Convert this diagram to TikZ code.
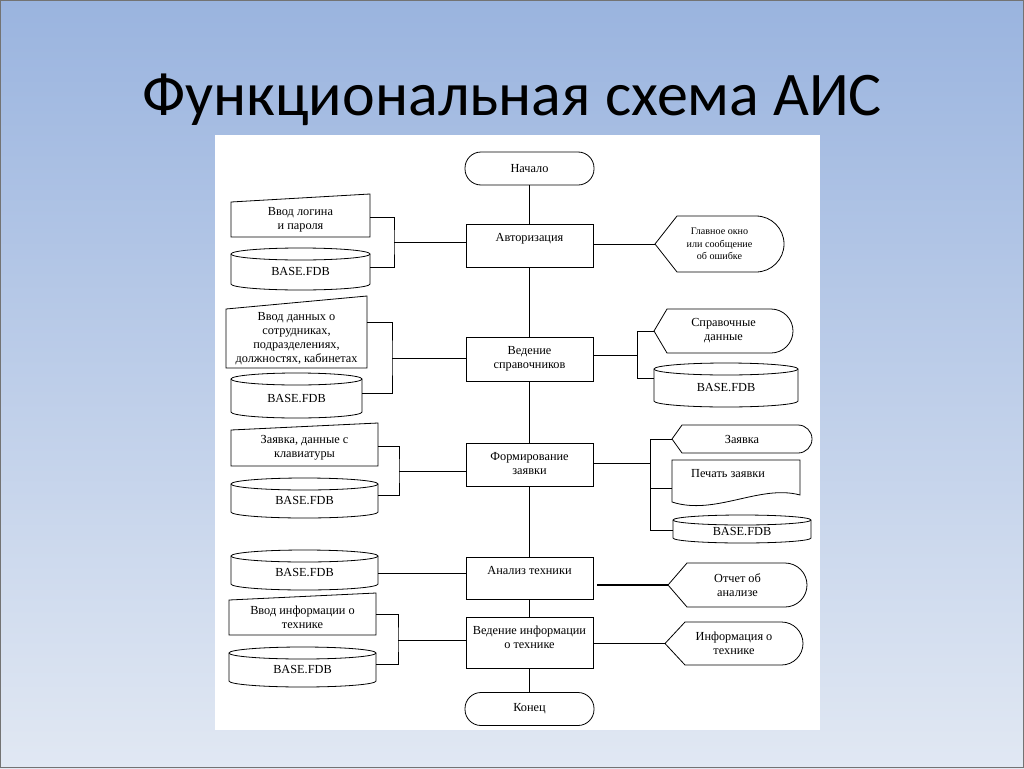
\documentclass[tikz,border=0pt]{standalone}
\usepackage{fontspec}
\setmainfont{Liberation Serif}
\newfontfamily\titlefont{Carlito}
\usetikzlibrary{calc}
\definecolor{bgtop}{HTML}{9AB4DF}
\definecolor{bgbot}{HTML}{E1E8F3}
\newcommand\dfont{\fontsize{12.3}{14}\selectfont}
\newcommand\sfont{\fontsize{10.1}{12.5}\selectfont}
\tikzset{
 shp/.style={draw=black, line width=0.8pt, fill=white},
 txt/.style={font=\dfont, align=center, inner sep=0pt, text=black},
 proc/.style={draw=black, line width=0.8pt, fill=white, minimum width=127pt, inner sep=0pt},
 term/.style={draw=black, line width=0.8pt, fill=white, rounded corners=16pt, minimum width=129pt, minimum height=33pt, inner sep=0pt, font=\dfont},
 link/.style={draw=black, line width=0.8pt},
 boldlink/.style={draw=black, line width=1.6pt},
}
% manual input: [opts]{name}{x1}{x2}{y top left}{y top right}{y bottom}{text}
\newcommand\ManIn[8][]{%
 \draw[shp] (#3,#5) -- (#4,#6) -- (#4,#7) -- (#3,#7) -- cycle;
 \node[txt,minimum width={(#4-#3)*1pt},minimum height={(#7-#5)*1pt},#1] (#2) at ({0.5*(#3+#4)},{0.5*(#5+#7)}) {#8};}
% database cylinder: [opts]{name}{x1}{x2}{y1}{y2}{ry}
\newcommand\DbCyl[7][]{%
 \pgfmathsetmacro\dbrx{0.5*(#4-#3)}%
 \draw[shp] (#3,{#5+#7}) -- (#3,{#6-#7}) arc[start angle=180,end angle=360,x radius=\dbrx pt,y radius=#7pt] -- (#4,{#5+#7}) arc[start angle=0,end angle=180,x radius=\dbrx pt,y radius=#7pt] -- cycle;
 \draw[shp,fill=none] (#3,{#5+#7}) arc[start angle=180,end angle=360,x radius=\dbrx pt,y radius=#7pt];
 \node[txt,minimum width={(#4-#3)*1pt},minimum height={(#6-#5-2*#7)*1pt},#1] (#2) at ({0.5*(#3+#4)},{0.5*(#5+#6)+0.5*#7}) {BASE.FDB};}
% display: [opts]{name}{x left point}{x right}{y top}{y bottom}{point depth}{text}
\newcommand\DispShape[8][]{%
 \pgfmathsetmacro\dsym{0.5*(#5+#6)}%
 \pgfmathsetmacro\dsr{0.5*(#6-#5)}%
 \draw[shp] (#3,\dsym) -- ({#3+#7},#5) -- ({#4-\dsr},#5) arc[start angle=90,end angle=-90,x radius=\dsr pt,y radius=\dsr pt] -- ({#3+#7},#6) -- cycle;
 \node[txt,minimum width={(#4-#3)*1pt},minimum height={(#6-#5)*1pt},#1] (#2) at ({0.5*(#3+#4)},\dsym) {#8};}
\begin{document}
\begin{tikzpicture}[x=1pt,y=-1pt]
\useasboundingbox (0,0) rectangle (1024,768);
\shade[top color=bgtop, bottom color=bgbot] (0,0) rectangle (1024,768);
\draw[black!55, line width=1pt] (0.5,0.5) rectangle (1023.5,767.5);
\node[font=\titlefont\fontsize{62}{70}\selectfont, inner sep=0pt] (title) at (512,100) {Функциональная схема АИС};
\fill[white] (215,135) rectangle (820,730);

% central column
\node[term] (start) at (529.5,168.5) {Начало};
\node[proc, minimum height=43pt, label={[txt,anchor=north,yshift=-9.5pt]north:Авторизация}] (auth) at (529.5,245.5) {};
\node[proc, minimum height=44pt, label={[txt,anchor=north,yshift=-9.5pt]north:Ведение\\справочников}] (sprav) at (529.5,359) {};
\node[proc, minimum height=43pt, label={[txt,anchor=north,yshift=-9.5pt]north:Формирование\\заявки}] (form) at (529.5,464.5) {};
\node[proc, minimum height=42pt, label={[txt,anchor=north,yshift=-9.5pt]north:Анализ техники}] (anal) at (529.5,578) {};
\node[proc, minimum height=51pt, label={[txt,anchor=north,yshift=-9.5pt]north:Ведение информации\\о технике}] (vinfo) at (529.5,642.5) {};
\node[term] (end) at (529.5,709) {Конец};
\draw[link] (start) -- (auth) -- (sprav) -- (form) -- (anal) -- (vinfo) -- (end);

% left inputs
\ManIn{mi1}{231}{370}{202}{194}{237}{Ввод логина\\и пароля}
\DbCyl{cyl1}{231}{370}{248}{290}{6}
\coordinate (l1) at (394,242);
\draw[link] ([yshift=2pt]mi1.east) -| (l1) |- ([yshift=5pt]cyl1.east);
\draw[link] (l1) -- (l1 -| auth.west);

\ManIn{mi2}{226}{367}{309}{296}{368}{Ввод данных о\\сотрудниках,\\подразделениях,\\должностях, кабинетах}
\DbCyl{cyl2}{231}{362}{373}{418}{6}
\coordinate (l2) at (392,358);
\draw[link] ([yshift=16.5pt]mi2.east) -| (l2) |- ([yshift=5.5pt]cyl2.east);
\draw[link] (l2) -- (l2 -| sprav.west);

\ManIn{mi3}{231}{378}{430}{423}{466}{Заявка, данные с\\клавиатуры}
\DbCyl{cyl3}{231}{378}{478}{518}{6}
\coordinate (l3) at (399,471);
\draw[link] ([yshift=2pt]mi3.east) -| (l3) |- ([yshift=6pt]cyl3.east);
\draw[link] (l3) -- (l3 -| form.west);

\DbCyl{cyl4}{231}{378}{550}{590}{6}
\draw[link] (cyl4.east) -- (cyl4.east -| anal.west);

\ManIn{mi4}{229}{376}{600}{593}{635}{Ввод информации о\\технике}
\DbCyl{cyl5}{229}{376}{647}{687}{6}
\coordinate (l4) at (398,640);
\draw[link] ([yshift=3.5pt]mi4.east) -| (l4) |- ([yshift=6pt]cyl5.east);
\draw[link] (l4) -- (l4 -| vinfo.west);

% right outputs
\DispShape[font=\sfont]{d1}{655}{784}{216}{272}{22}{Главное окно\\или сообщение\\об ошибке}
\draw[link] (auth.east |- d1.west) -- (d1.west);

\DispShape{d2}{654}{793}{309}{353}{13}{Справочные\\данные}
\DbCyl{cyl6}{654}{798}{363}{407}{6}
\coordinate (r2) at (637,355);
\draw[link] (d2.west) -| (r2) |- ([yshift=10pt]cyl6.west);
\draw[link] (r2) -- (r2 -| sprav.east);

\DispShape{d3}{672}{812}{425}{453}{10}{Заявка}
\draw[shp] (672,460) -- (800,460) -- (800,495) .. controls (760,484) and (715,516) .. (672,502) -- cycle;
\node[txt, minimum width=112pt, minimum height=26pt] (doc) at (728,474) {Печать заявки};
\DbCyl{cyl7}{673}{811}{515}{543}{5}
\coordinate (r3) at (650,463);
\draw[link] (d3.west) -| (r3) |- ([yshift=1.5pt]cyl7.west);
\draw[link] ([yshift=-14pt]doc.west) -- ([yshift=-14pt]doc.west -| r3);
\draw[link] (r3) -- (r3 -| form.east);

\DispShape{d4}{668}{807}{563}{607}{19}{Отчет об\\анализе}
\draw[boldlink, shorten <=4pt] (anal.east |- d4.west) -- (d4.west);

\DispShape{d5}{665}{803}{622}{665}{20}{Информация о\\технике}
\draw[link] (vinfo.east |- d5.west) -- (d5.west);
\end{tikzpicture}
\end{document}
